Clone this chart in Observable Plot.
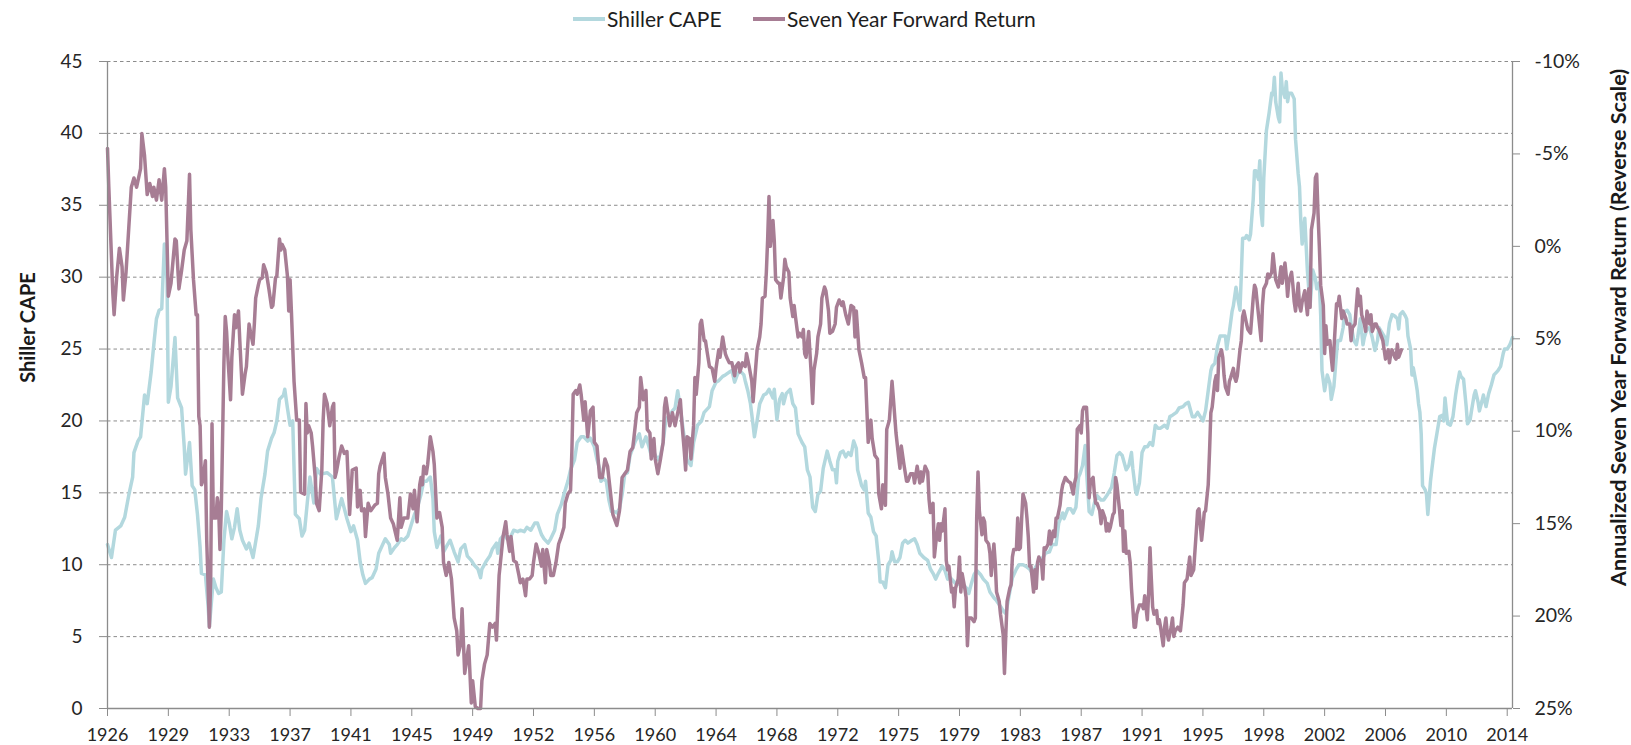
<!DOCTYPE html>
<html>
<head>
<meta charset="utf-8">
<script src="https://cdn.jsdelivr.net/npm/d3@7"></script>
<script src="https://cdn.jsdelivr.net/npm/@observablehq/plot@0.6"></script>
<style>
  html, body { margin: 0; padding: 0; background: #fff; }
  body { width: 1631px; height: 745px; overflow: hidden; font-family: Lato, "Open Sans", sans-serif; }
  #legend { position: relative; height: 36px; font-size: 21px; color: #1e1e1e; }
  #legend .sw { position: absolute; top: 17px; width: 32px; height: 3.5px; }
  #legend .lab { position: absolute; top: 0; line-height: 38px; white-space: nowrap; }
</style>
</head>
<body>
<div id="legend">
  <div class="sw" style="left:573px;background:#b3d8de"></div><span class="lab" style="left:607px">Shiller CAPE</span>
  <div class="sw" style="left:753px;background:#a77d94"></div><span class="lab" style="left:787px">Seven Year Forward Return</span>
</div>
<div id="chart"></div>
<script>
// Month index: 0 = January 1926
const capeSeries = [[0,11.4],[3,10.5],[6,12.4],[10,12.7],[13,13.3],[16,14.8],[19,16.1],[20,17.8],[23,18.6],[25,18.9],[28,21.8],[30,21.2],[33,23.4],[35,25.3],[37,27.1],[39,27.7],[41,27.8],[43,32.3],[45,29.8],[46,21.3],[48,22.4],[51,25.8],[53,21.6],[56,20.9],[58,18.2],[59,16.3],[62,18.5],[64,15.5],[66,15.2],[68,13.5],[70,11.2],[71,9.4],[74,9.3],[76,7.2],[77,5.7],[80,9.0],[82,8.4],[84,8.0],[86,8.1],[88,11.7],[90,13.7],[92,12.9],[94,11.8],[96,12.6],[98,13.9],[100,12.4],[102,11.7],[105,11.1],[107,11.5],[110,10.5],[114,12.7],[116,14.6],[119,16.3],[121,17.9],[124,18.8],[126,19.2],[128,20.0],[130,21.5],[133,21.8],[134,22.2],[136,20.9],[138,19.7],[140,20.0],[142,13.5],[145,13.2],[147,12.0],[149,12.4],[151,14.3],[153,16.1],[156,14.3],[158,16.7],[161,16.3],[166,16.4],[170,16.1],[173,13.2],[177,14.6],[179,13.9],[181,13.2],[184,12.3],[186,12.7],[189,11.7],[191,10.2],[193,9.3],[195,8.7],[198,9.0],[200,9.1],[203,9.7],[205,10.8],[208,11.4],[210,11.8],[213,11.4],[214,10.8],[217,11.2],[219,11.4],[222,11.8],[224,11.7],[227,12.0],[229,12.6],[232,13.5],[234,13.9],[237,14.9],[239,15.8],[241,15.8],[244,16.1],[246,14.6],[247,12.3],[249,11.2],[252,12.0],[254,10.9],[257,11.4],[259,11.7],[262,10.9],[265,10.2],[267,11.1],[270,11.4],[272,10.6],[275,10.3],[277,10.0],[280,9.7],[282,9.1],[283,9.7],[286,10.2],[289,10.6],[291,11.1],[294,11.5],[295,10.8],[297,11.8],[300,12.1],[302,11.8],[305,12.0],[307,12.4],[310,12.3],[312,12.4],[315,12.3],[317,12.6],[320,12.4],[323,12.9],[325,12.9],[328,12.1],[330,11.8],[333,11.5],[335,11.8],[338,12.4],[340,13.5],[343,14.2],[345,14.9],[348,15.8],[350,16.6],[353,17.3],[355,18.5],[358,18.9],[360,18.9],[363,18.6],[365,18.8],[368,18.2],[370,17.3],[372,16.7],[373,15.8],[375,16.0],[377,15.8],[379,14.5],[381,13.7],[383,13.7],[385,13.6],[387,13.9],[389,14.9],[391,16.3],[393,16.4],[395,17.6],[397,18.1],[399,18.6],[402,19.1],[404,18.2],[407,18.9],[409,18.3],[411,17.6],[413,17.8],[416,17.3],[418,17.6],[420,18.5],[422,20.1],[424,20.3],[427,20.7],[429,20.9],[431,22.1],[433,20.9],[436,18.8],[438,17.3],[441,16.9],[443,18.5],[446,19.7],[449,20.0],[451,20.6],[455,21.0],[457,22.1],[460,22.7],[462,22.8],[465,23.1],[467,23.2],[470,23.4],[472,23.5],[474,22.7],[476,23.2],[478,23.5],[481,23.2],[482,22.8],[484,22.1],[486,21.2],[488,19.7],[489,18.9],[491,20.0],[493,21.2],[496,21.8],[498,21.9],[500,22.2],[503,21.6],[504,22.2],[506,20.1],[508,21.5],[510,21.9],[511,21.2],[513,21.9],[516,22.2],[518,21.2],[520,20.9],[522,19.1],[525,18.5],[527,18.2],[529,16.6],[531,16.1],[533,14.0],[535,13.7],[537,14.9],[539,15.1],[541,16.7],[544,17.9],[546,17.2],[548,16.6],[550,16.6],[551,15.7],[552,17.2],[554,17.8],[556,17.9],[558,17.5],[560,17.8],[562,17.6],[564,18.6],[566,18.1],[567,16.6],[570,15.5],[572,15.2],[573,15.8],[575,13.6],[577,13.3],[579,12.3],[581,12.0],[583,10.2],[584,8.8],[586,8.8],[588,8.4],[590,10.0],[592,10.3],[593,10.9],[595,10.2],[597,10.2],[599,10.5],[601,11.5],[603,11.7],[605,11.5],[608,11.7],[610,11.8],[612,11.4],[614,10.8],[617,10.5],[620,10.3],[622,9.7],[624,9.4],[626,9.0],[628,9.4],[631,9.9],[633,9.6],[635,9.0],[637,9.1],[640,8.8],[642,8.6],[645,8.8],[647,8.6],[650,8.3],[651,8.0],[653,8.7],[655,9.3],[657,9.6],[660,9.3],[662,9.0],[665,8.7],[667,8.1],[670,7.7],[672,7.5],[675,7.1],[677,6.8],[679,6.6],[682,8.1],[684,9.1],[687,9.7],[689,10.0],[692,10.0],[694,9.9],[697,9.7],[699,9.4],[702,9.9],[704,10.2],[707,10.5],[709,10.8],[712,10.9],[714,11.4],[717,11.4],[719,12.9],[722,13.6],[723,13.2],[726,13.9],[728,13.9],[730,13.6],[732,14.0],[734,16.1],[735,16.3],[737,16.9],[739,18.3],[740,16.6],[742,13.7],[744,13.5],[746,14.3],[748,14.8],[751,14.5],[753,14.5],[756,14.9],[759,15.4],[761,16.4],[763,17.6],[765,17.8],[767,17.6],[770,16.6],[772,16.9],[774,17.8],[775,16.7],[777,15.2],[778,14.9],[780,15.7],[782,17.8],[784,18.2],[786,18.2],[788,18.5],[790,18.3],[792,19.7],[794,19.5],[796,19.5],[799,19.7],[801,19.5],[803,20.3],[805,20.4],[808,20.6],[810,20.9],[813,21.0],[815,21.2],[817,21.3],[820,20.3],[822,20.3],[824,20.6],[826,20.3],[828,20.0],[830,20.7],[832,22.1],[834,23.5],[835,23.8],[837,24.0],[839,25.2],[841,25.9],[843,25.9],[845,25.9],[846,25.0],[848,26.2],[850,27.6],[851,28.0],[853,29.3],[854,28.7],[856,27.7],[857,30.1],[858,32.7],[860,32.7],[861,32.9],[863,32.6],[864,33.0],[866,35.4],[867,37.4],[868,37.4],[870,36.8],[871,38.1],[872,34.5],[873,33.6],[874,36.9],[876,40.2],[877,40.8],[878,41.4],[880,42.8],[881,42.7],[882,43.9],[883,42.2],[885,41.1],[886,40.8],[887,44.2],[888,43.1],[890,42.5],[891,43.6],[892,42.2],[893,42.8],[895,42.8],[897,42.4],[898,39.6],[900,37.2],[901,36.3],[902,33.9],[903,32.3],[905,34.1],[907,30.4],[909,28.0],[911,30.5],[913,29.9],[914,29.2],[916,29.6],[917,27.4],[918,23.5],[920,22.1],[922,23.2],[924,22.6],[925,21.5],[927,22.4],[929,24.7],[930,25.6],[932,25.6],[934,26.5],[935,27.6],[937,27.7],[939,27.4],[940,26.7],[942,25.6],[944,25.3],[945,25.8],[947,27.1],[949,25.3],[950,25.8],[952,26.4],[954,26.5],[956,25.8],[958,24.9],[960,25.6],[961,26.5],[963,26.2],[965,25.9],[967,25.3],[969,26.8],[971,27.4],[973,27.3],[975,27.1],[976,26.4],[977,27.4],[979,27.6],[981,27.3],[982,27.1],[983,25.9],[985,25.0],[986,23.2],[987,23.7],[989,22.7],[990,22.1],[991,21.2],[992,20.6],[993,19.1],[994,15.5],[996,15.2],[997,14.9],[998,13.5],[1000,15.8],[1001,16.6],[1003,18.1],[1005,19.2],[1007,20.3],[1009,20.4],[1010,20.0],[1011,21.6],[1013,19.8],[1015,19.7],[1017,20.3],[1019,21.8],[1020,22.4],[1022,23.4],[1023,23.1],[1025,22.9],[1027,21.0],[1028,19.8],[1030,20.1],[1031,20.7],[1033,21.8],[1034,22.1],[1036,21.3],[1037,20.7],[1039,21.4],[1040,21.8],[1042,21.0],[1044,21.9],[1046,22.5],[1048,23.2],[1050,23.4],[1051,23.5],[1053,23.8],[1055,24.7],[1056,25.0],[1058,25.0],[1060,25.3],[1062,25.8]];

// Annualized seven-year forward return, percent
const returnSeries = [[0,-5.3],[1,-3.2],[4,2.5],[5,3.7],[7,1.6],[9,0.1],[11,1.1],[12,2.9],[14,1.4],[16,-0.9],[18,-3.2],[20,-3.7],[22,-3.2],[25,-4.2],[26,-6.1],[28,-4.9],[30,-2.8],[32,-3.4],[34,-2.7],[35,-3.2],[37,-2.5],[39,-3.6],[41,-2.5],[43,-4.2],[44,-3.2],[46,2.7],[48,2.0],[51,-0.4],[52,-0.3],[54,2.3],[56,1.3],[58,0.2],[60,-0.3],[62,-3.9],[63,-0.9],[65,1.8],[67,3.7],[68,3.7],[69,9.2],[70,9.7],[71,12.9],[72,12.7],[74,11.6],[75,15.9],[77,20.6],[78,18.0],[79,9.6],[80,14.7],[82,14.7],[83,13.6],[84,14.1],[85,16.4],[86,14.3],[88,6.3],[89,3.8],[90,4.6],[91,6.0],[93,8.3],[94,6.0],[96,3.7],[97,4.4],[99,3.5],[100,5.1],[102,8.0],[104,6.9],[105,6.5],[107,4.2],[108,4.6],[110,5.3],[111,4.2],[112,2.8],[114,2.1],[115,1.8],[117,1.7],[118,1.0],[120,1.4],[122,2.3],[124,3.3],[125,3.2],[127,1.7],[128,1.6],[130,-0.4],[131,0.2],[132,-0.1],[134,0.2],[136,1.6],[137,3.5],[138,1.8],[139,3.5],[141,7.3],[143,9.4],[145,9.4],[146,13.3],[149,13.4],[150,8.5],[151,10.1],[152,9.7],[154,10.1],[155,10.8],[157,12.5],[158,13.9],[160,14.3],[162,12.1],[163,9.4],[164,8.0],[166,8.5],[168,9.7],[170,8.7],[171,8.5],[172,12.5],[173,12.2],[175,11.4],[177,10.8],[179,11.2],[181,11.1],[183,14.5],[185,12.1],[188,12.0],[189,14.1],[191,13.2],[192,14.3],[194,14.2],[195,15.7],[197,13.9],[199,14.3],[202,14.0],[204,13.9],[205,12.3],[206,11.9],[209,11.2],[210,12.5],[212,13.4],[214,14.7],[216,15.0],[218,15.6],[219,15.9],[221,13.6],[222,15.2],[224,14.7],[227,14.7],[229,13.4],[231,14.2],[232,13.2],[234,14.9],[236,12.9],[237,12.5],[238,12.9],[239,11.9],[241,12.3],[242,11.8],[244,10.3],[246,11.1],[247,11.8],[249,14.7],[251,14.4],[253,15.2],[254,17.1],[256,17.8],[258,17.1],[260,18.0],[262,20.1],[264,20.8],[265,22.1],[267,21.5],[268,19.6],[270,23.1],[271,22.6],[273,21.6],[275,24.7],[276,23.5],[278,24.9],[280,25.0],[282,25.0],[283,23.5],[285,22.6],[287,22.1],[289,20.4],[291,20.6],[293,20.4],[294,21.3],[296,17.8],[297,17.1],[299,15.7],[301,14.9],[302,15.6],[304,16.5],[305,15.7],[307,17.0],[309,17.1],[311,17.8],[312,18.2],[314,18.0],[316,18.9],[317,18.0],[319,18.0],[321,17.8],[322,17.1],[324,16.1],[326,16.6],[328,17.3],[329,16.4],[331,18.2],[332,16.4],[334,17.1],[335,17.8],[337,17.8],[339,17.1],[341,16.1],[343,15.7],[345,15.2],[346,13.9],[348,13.4],[350,13.2],[351,11.1],[352,8.0],[354,7.8],[355,8.0],[357,7.5],[358,8.0],[360,9.4],[361,8.4],[363,10.3],[365,8.9],[367,8.7],[368,10.6],[370,10.8],[372,12.5],[374,12.5],[376,11.5],[378,11.9],[380,13.2],[382,14.5],[383,14.7],[385,15.1],[387,14.3],[389,12.5],[391,12.3],[393,12.1],[395,11.1],[397,10.9],[398,10.3],[400,9.0],[402,8.7],[403,7.1],[405,8.3],[407,7.8],[408,9.9],[410,10.1],[411,11.5],[413,10.4],[414,11.5],[416,12.3],[418,11.5],[420,10.6],[421,8.7],[422,8.2],[424,9.2],[425,9.7],[427,9.0],[429,9.7],[431,9.0],[433,8.3],[434,9.4],[436,11.1],[437,12.1],[438,10.3],[440,10.4],[441,11.5],[443,9.7],[444,7.1],[445,8.0],[447,6.3],[448,4.2],[449,4.0],[451,5.1],[452,5.1],[453,5.6],[455,6.5],[457,6.6],[459,7.3],[460,6.6],[462,5.6],[463,6.0],[465,4.9],[467,5.8],[468,6.0],[470,6.3],[472,6.3],[474,7.0],[475,6.5],[477,6.3],[478,6.8],[480,6.3],[482,6.5],[483,5.8],[485,6.5],[487,7.3],[488,8.4],[490,6.5],[491,5.6],[493,4.9],[494,4.2],[495,2.8],[497,2.7],[498,1.4],[499,-0.4],[500,-2.7],[501,0.0],[502,-0.7],[503,-1.4],[504,-0.3],[505,1.8],[507,2.0],[508,2.0],[509,2.8],[511,1.7],[512,0.7],[513,1.1],[515,1.4],[516,2.8],[518,3.8],[519,3.2],[520,3.8],[522,4.9],[523,4.7],[525,4.9],[526,4.5],[527,5.8],[528,6.0],[529,5.3],[530,4.6],[532,7.0],[533,8.5],[534,6.7],[536,5.8],[537,4.9],[539,4.2],[540,2.8],[542,2.2],[543,2.4],[545,3.5],[546,4.7],[548,4.6],[550,4.2],[551,3.3],[553,2.9],[555,3.2],[556,3.0],[558,3.7],[560,4.2],[562,3.2],[564,3.3],[565,4.9],[566,3.5],[568,5.6],[570,6.3],[572,7.1],[573,7.1],[575,10.6],[577,9.4],[578,10.4],[580,11.3],[582,11.5],[583,13.4],[585,14.2],[586,12.9],[588,14.0],[589,9.9],[591,9.4],[593,7.3],[594,8.2],[596,10.1],[598,11.4],[599,12.0],[600,10.8],[602,11.8],[604,12.7],[605,12.7],[607,12.3],[609,12.3],[610,12.8],[612,11.9],[614,12.8],[615,12.2],[616,12.7],[618,11.9],[620,12.2],[621,13.7],[622,14.4],[624,13.9],[625,16.8],[626,16.1],[628,15.0],[629,15.9],[630,15.0],[631,15.4],[633,14.2],[634,17.0],[635,17.5],[636,17.3],[638,18.7],[639,18.5],[640,19.5],[641,18.5],[643,18.0],[644,16.8],[645,18.7],[646,17.7],[648,18.5],[649,19.0],[650,21.6],[651,20.1],[653,20.1],[655,20.3],[656,20.1],[657,14.7],[658,12.2],[659,14.3],[661,15.6],[662,14.7],[663,14.9],[664,15.9],[666,16.1],[667,16.6],[668,17.8],[670,16.1],[671,17.1],[672,18.7],[674,19.2],[675,19.9],[677,21.0],[678,23.1],[679,21.0],[680,19.2],[682,18.5],[683,18.3],[684,16.8],[685,16.4],[687,16.4],[688,14.7],[689,16.4],[690,16.3],[691,14.7],[692,13.4],[694,13.9],[695,14.7],[696,15.7],[697,17.3],[698,17.3],[700,18.7],[701,17.5],[702,18.5],[703,17.1],[704,16.8],[706,17.1],[707,18.0],[708,16.3],[709,16.4],[711,16.1],[712,15.4],[713,16.1],[715,15.4],[716,15.7],[717,14.7],[718,14.7],[720,14.0],[721,13.3],[722,12.9],[724,12.5],[726,12.7],[728,12.8],[730,13.4],[731,12.8],[732,12.5],[733,9.9],[735,9.7],[736,10.1],[737,8.9],[738,8.7],[740,8.7],[741,10.1],[742,13.6],[743,12.7],[745,12.5],[746,13.4],[747,13.9],[748,13.9],[750,14.3],[751,15.0],[752,14.3],[754,14.7],[755,15.4],[756,15.0],[757,15.4],[758,15.2],[760,14.5],[761,14.4],[762,12.5],[763,12.9],[765,14.3],[766,15.1],[767,14.3],[768,16.5],[769,15.4],[770,16.6],[772,16.5],[773,17.1],[774,18.5],[776,20.6],[777,20.6],[778,19.9],[780,19.4],[782,19.4],[783,19.6],[784,18.9],[786,20.2],[787,18.7],[788,16.3],[789,18.0],[790,19.5],[791,19.9],[793,19.7],[794,20.4],[795,20.2],[796,20.6],[798,21.6],[799,20.6],[800,20.1],[801,20.9],[802,21.3],[804,20.6],[805,20.1],[806,21.1],[807,20.8],[809,20.6],[811,20.8],[813,19.4],[814,18.2],[816,18.0],[818,16.8],[819,17.8],[821,17.5],[823,15.4],[824,14.3],[825,14.2],[827,15.9],[828,15.2],[829,14.4],[830,14.3],[832,12.9],[833,11.1],[834,9.0],[835,8.7],[837,7.3],[838,7.0],[839,7.8],[840,6.0],[842,5.6],[843,6.0],[844,7.0],[845,7.6],[847,8.0],[848,7.3],[849,7.1],[851,6.6],[852,7.1],[853,7.3],[854,7.0],[856,5.6],[857,5.1],[858,3.8],[859,3.5],[861,4.2],[862,4.5],[864,4.7],[866,2.8],[867,2.1],[868,2.3],[869,3.0],[871,4.4],[872,5.1],[873,3.2],[874,2.3],[876,2.0],[877,1.5],[878,1.7],[880,1.4],[881,0.4],[882,1.1],[883,1.8],[885,2.2],[886,1.7],[887,1.1],[888,2.0],[890,0.9],[891,1.6],[892,2.7],[893,1.9],[895,1.4],[896,2.1],[897,3.0],[898,3.5],[900,2.0],[901,3.2],[902,3.5],[903,3.0],[905,2.4],[907,3.7],[908,2.3],[909,3.3],[910,-0.9],[912,-1.8],[913,-3.7],[914,-3.9],[915,-1.8],[916,0.0],[917,2.1],[919,3.2],[920,5.8],[921,4.3],[922,5.3],[924,5.1],[925,6.0],[926,6.7],[927,5.6],[929,3.1],[930,3.2],[931,2.7],[933,3.9],[934,3.5],[935,3.7],[936,3.9],[937,4.2],[939,4.2],[940,5.1],[941,4.4],[943,4.2],[944,3.2],[945,2.3],[946,3.2],[947,2.7],[948,3.7],[950,4.2],[951,4.6],[952,3.5],[953,3.8],[954,4.2],[955,3.7],[956,4.6],[958,4.2],[959,4.2],[960,4.4],[961,4.5],[963,4.9],[964,5.1],[965,5.6],[966,6.1],[968,5.6],[969,6.3],[970,5.8],[971,5.6],[973,6.0],[974,6.1],[975,5.3],[976,6.0],[978,5.6]];

const capeTicks = [0, 5, 10, 15, 20, 25, 30, 35, 40, 45];
const returnTicks = [-10, -5, 0, 5, 10, 15, 20, 25];
const yearTickMonths = [0, 46, 92, 138, 184, 230, 276, 322, 368, 414, 460, 506, 552, 598, 644, 690, 736, 782, 828, 874, 920, 966, 1012, 1058];
const yearTickLabels = ["1926","1929","1933","1937","1941","1945","1949","1952","1956","1960","1964","1968","1972","1975","1979","1983","1987","1991","1995","1998","2002","2006","2010","2014"];

// right axis: -10% at CAPE 45, 25% at CAPE 0 (reverse scale)
const retToCape = r => (25 - r) * 45 / 35;
const capeToRet = v => Math.round(25 - v * 35 / 45);

const capeData = capeSeries.map(([m, v]) => ({m, v}));
const retData = returnSeries.map(([m, r]) => ({m, r}));
const yearLabel = new Map(yearTickMonths.map((m, i) => [m, yearTickLabels[i]]));

const axisColor = "#8c8c8c";
const chart = Plot.plot({
  width: 1631,
  height: 709,
  marginLeft: 107,
  marginRight: 119,
  marginTop: 25,
  marginBottom: 37,
  x: {domain: [0, 1062], axis: null},
  y: {domain: [0, 45], axis: null},
  style: {fontFamily: "Lato, 'Open Sans', sans-serif", fontSize: "19px", color: "#262626", background: "#fff"},
  marks: [
    Plot.ruleY(capeTicks.filter(d => d > 0), {stroke: "#8c8c8c", strokeWidth: 1, strokeDasharray: "3.5,3"}),
    Plot.line(capeData, {x: "m", y: "v", stroke: "#b3d8de", strokeWidth: 3.5, strokeLinejoin: "round"}),
    Plot.line(retData, {x: "m", y: d => retToCape(d.r), stroke: "#a77d94", strokeWidth: 3.5, strokeLinejoin: "round"}),
    Plot.ruleX([0, 1062], {stroke: axisColor, strokeWidth: 1.3}),
    Plot.ruleY([0], {stroke: axisColor, strokeWidth: 1.3}),
    Plot.axisY(capeTicks, {anchor: "left", tickSize: 8, tickPadding: 17, stroke: axisColor, fontSize: 19, label: null}),
    Plot.axisY(returnTicks.map(retToCape), {anchor: "right", tickSize: 7, tickPadding: 15, stroke: axisColor, fontSize: 19.5, label: null,
      tickFormat: v => capeToRet(v) + "%"}),
    Plot.axisX(yearTickMonths, {anchor: "bottom", tickSize: 8, tickPadding: 12, stroke: axisColor, fontSize: 18, label: null,
      tickFormat: m => yearLabel.get(m)}),
    Plot.text(["Shiller CAPE"], {x: 0, y: 26.5, dx: -79, rotate: -90, text: d => d, fontWeight: "bold", fontSize: 20, fill: "#1a1a1a"}),
    Plot.text(["Annualized Seven Year Forward Return (Reverse Scale)"], {x: 1062, y: 26.5, dx: 107, rotate: -90, text: d => d, fontWeight: "bold", fontSize: 21.5, fill: "#1a1a1a"})
  ]
});
document.getElementById("chart").appendChild(chart);
</script>
</body>
</html>
